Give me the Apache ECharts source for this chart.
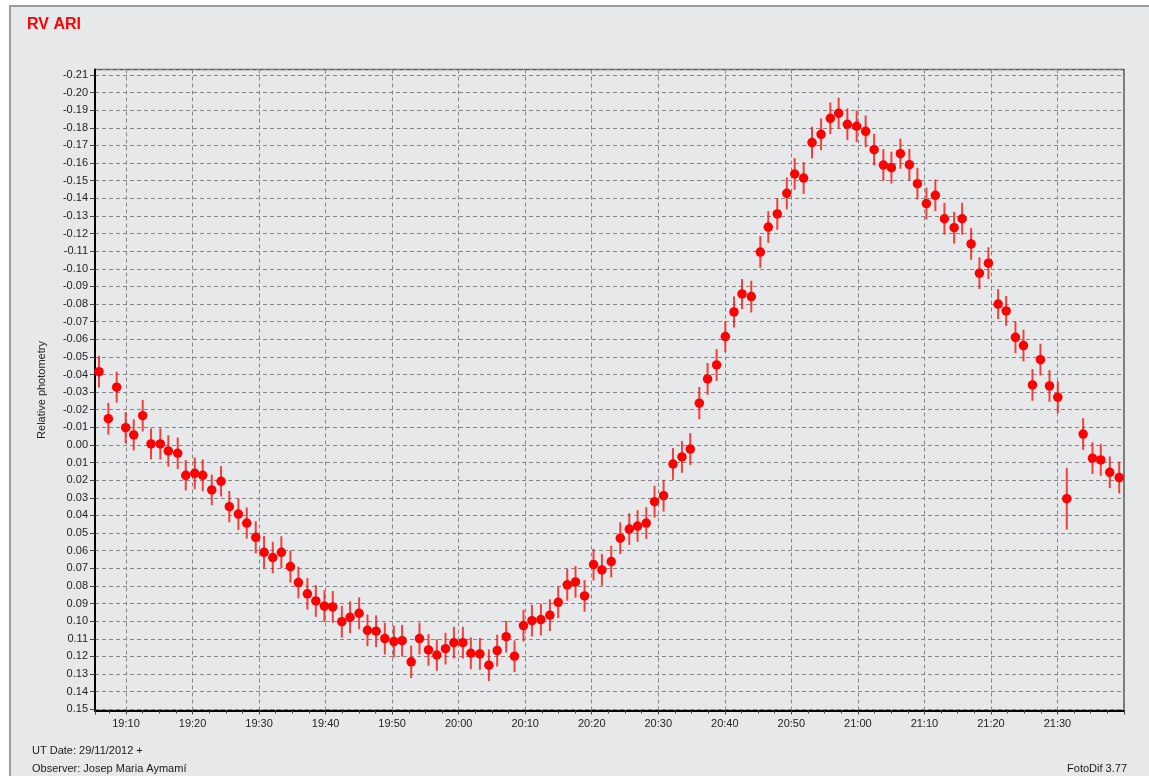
<!DOCTYPE html>
<html>
<head>
<meta charset="utf-8">
<script src="https://cdn.jsdelivr.net/npm/echarts@6/dist/echarts.min.js"></script>
<style>
  html, body { margin: 0; padding: 0; background: #ffffff; width: 1149px; height: 776px; overflow: hidden; }
  #panel { position: absolute; left: 9px; top: 5px; width: 1150px; height: 780px; background: #e7e8ea; border-left: 2px solid #9c9c9c; border-top: 2px solid #9c9c9c; }
  #chart { position: absolute; left: 0; top: 0; width: 1149px; height: 776px; }
</style>
</head>
<body>
<div id="panel"></div>
<div id="chart"></div>
<script>
// Observation times, minutes after 19:00 UT
const minutesAfter19h = [
  5.94, 7.34, 8.60, 9.95, 11.16, 12.51, 13.76, 15.16, 16.36, 17.77,
  18.98, 20.33, 21.53, 22.89, 24.29, 25.53, 26.89, 28.15, 29.50, 30.75,
  32.06, 33.35, 34.71, 35.91, 37.26, 38.53, 39.82, 41.08, 42.44, 43.68,
  45.04, 46.29, 47.59, 48.90, 50.26, 51.50, 52.86, 54.11, 55.46, 56.72,
  58.02, 59.28, 60.63, 61.83, 63.19, 64.54, 65.79, 67.14, 68.39, 69.74,
  71.01, 72.36, 73.71, 74.96, 76.32, 77.56, 78.92, 80.27, 81.53, 82.93,
  84.29, 85.64, 86.89, 88.20, 89.44, 90.80, 92.21, 93.56, 94.81, 96.17,
  97.41, 98.77, 100.08, 101.38, 102.59, 103.98, 105.34, 106.54, 107.89, 109.32,
  110.50, 111.85, 113.11, 114.47, 115.86, 117.11, 118.42, 119.82, 121.17, 122.44,
  123.83, 125.04, 126.39, 127.74, 128.95, 130.30, 131.65, 133.01, 134.47, 135.67,
  137.02, 138.27, 139.62, 141.08, 142.29, 143.68, 144.89, 146.24, 147.44, 148.80,
  150.05, 151.40, 153.86, 155.26, 156.51, 157.86, 159.28
];
// Relative photometry (magnitude difference)
const relMag = [
  -0.0416, -0.0149, -0.0328, -0.0098, -0.0057, -0.0166, -0.0006, -0.0006, 0.0034, 0.0047,
  0.0172, 0.0161, 0.0172, 0.0255, 0.0206, 0.0350, 0.0392, 0.0443, 0.0524, 0.0609,
  0.0639, 0.0609, 0.0690, 0.0781, 0.0845, 0.0885, 0.0915, 0.0919, 0.1003, 0.0978,
  0.0955, 0.1052, 0.1057, 0.1099, 0.1116, 0.1111, 0.1231, 0.1099, 0.1163, 0.1192,
  0.1156, 0.1122, 0.1122, 0.1182, 0.1186, 0.1250, 0.1167, 0.1088, 0.1199, 0.1025,
  0.0997, 0.0991, 0.0966, 0.0893, 0.0794, 0.0777, 0.0857, 0.0679, 0.0709, 0.0662,
  0.0529, 0.0477, 0.0460, 0.0443, 0.0322, 0.0288, 0.0108, 0.0068, 0.0023, -0.0237,
  -0.0375, -0.0454, -0.0615, -0.0755, -0.0857, -0.0842, -0.1095, -0.1237, -0.1311, -0.1428,
  -0.1538, -0.1515, -0.1716, -0.1763, -0.1854, -0.1883, -0.1820, -0.1809, -0.1780, -0.1676,
  -0.1589, -0.1574, -0.1653, -0.1591, -0.1483, -0.1370, -0.1417, -0.1284, -0.1233, -0.1284,
  -0.1141, -0.0975, -0.1032, -0.0800, -0.0761, -0.0611, -0.0564, -0.0341, -0.0484, -0.0335,
  -0.0271, 0.0305, -0.0062, 0.0075, 0.0085, 0.0155, 0.0185
];
// Error bar half-lengths
const relMagErr = [
  0.0090, 0.0090, 0.0088, 0.0088, 0.0088, 0.0090, 0.0088, 0.0088, 0.0089, 0.0089,
  0.0086, 0.0090, 0.0090, 0.0087, 0.0086, 0.0089, 0.0090, 0.0088, 0.0091, 0.0093,
  0.0089, 0.0091, 0.0091, 0.0090, 0.0090, 0.0090, 0.0090, 0.0090, 0.0090, 0.0090,
  0.0090, 0.0090, 0.0090, 0.0090, 0.0090, 0.0090, 0.0092, 0.0090, 0.0090, 0.0090,
  0.0090, 0.0090, 0.0090, 0.0090, 0.0090, 0.0090, 0.0090, 0.0090, 0.0090, 0.0090,
  0.0090, 0.0090, 0.0090, 0.0090, 0.0090, 0.0090, 0.0090, 0.0090, 0.0090, 0.0090,
  0.0090, 0.0090, 0.0090, 0.0090, 0.0090, 0.0090, 0.0090, 0.0090, 0.0090, 0.0092,
  0.0090, 0.0090, 0.0088, 0.0088, 0.0085, 0.0090, 0.0090, 0.0090, 0.0090, 0.0090,
  0.0090, 0.0090, 0.0090, 0.0090, 0.0090, 0.0088, 0.0090, 0.0090, 0.0090, 0.0090,
  0.0090, 0.0090, 0.0085, 0.0090, 0.0090, 0.0090, 0.0090, 0.0090, 0.0090, 0.0090,
  0.0090, 0.0090, 0.0090, 0.0085, 0.0085, 0.0090, 0.0090, 0.0090, 0.0090, 0.0090,
  0.0090, 0.0175, 0.0090, 0.0090, 0.0090, 0.0090, 0.0090
];

const startMinuteOfDay = 19 * 60;
const points = minutesAfter19h.map((m, i) => [startMinuteOfDay + m, relMag[i], relMagErr[i]]);

const pad = n => (n < 10 ? '0' : '') + n;
const fmtTime = v => { const t = Math.round(v); return pad(Math.floor(t / 60)) + ':' + pad(t % 60); };
const fmtMag = v => { const s = v.toFixed(2); return s === '-0.00' ? '0.00' : s; };

const FONT = 'Liberation Sans, Arial, sans-serif';
const chart = echarts.init(document.getElementById('chart'), null, { renderer: 'canvas' });

chart.setOption({
  animation: false,
  backgroundColor: 'transparent',
  title: [
    { text: 'RV ARI', left: 22, top: 12, padding: 5,
      textStyle: { color: '#ff0000', fontSize: 16, fontWeight: 'bold', fontFamily: FONT } },
    { text: 'UT Date: 29/11/2012 +', left: 27, top: 740, padding: 5,
      textStyle: { color: '#1a1a1a', fontSize: 11, fontWeight: 'normal', fontFamily: FONT } },
    { text: 'Observer: Josep Maria Aymamí', left: 27, top: 758, padding: 5,
      textStyle: { color: '#1a1a1a', fontSize: 11, fontWeight: 'normal', fontFamily: FONT } },
    { text: 'FotoDif 3.77', right: 17, top: 758, padding: 5,
      textStyle: { color: '#1a1a1a', fontSize: 11, fontWeight: 'normal', fontFamily: FONT } }
  ],
  grid: {
    left: 95, right: 25, top: 69.5, bottom: 65.5,
    show: true, borderColor: '#555555', borderWidth: 1.5, backgroundColor: 'transparent'
  },
  xAxis: {
    type: 'value',
    min: 1145.34, max: 1300,
    splitNumber: 15,
    axisLine: { show: true, onZero: false, lineStyle: { color: '#000', width: 2 } },
    axisTick: { show: true, length: 4, lineStyle: { color: '#444' } },
    minorTick: { show: true, splitNumber: 4, length: 3, lineStyle: { color: '#444' } },
    axisLabel: { formatter: fmtTime, color: '#222', fontSize: 11, fontFamily: FONT, margin: 8,
      showMinLabel: false, showMaxLabel: false },
    splitLine: { show: true, lineStyle: { color: '#858585', width: 1, type: [4, 3] } }
  },
  yAxis: {
    type: 'value',
    inverse: true,
    min: -0.2131, max: 0.1507,
    splitNumber: 36,
    name: 'Relative photometry',
    nameLocation: 'middle',
    nameGap: 48,
    nameTextStyle: { color: '#222', fontSize: 11, fontFamily: FONT },
    axisLine: { show: true, onZero: false, lineStyle: { color: '#000', width: 2 } },
    axisTick: { show: true, length: 5, lineStyle: { color: '#444' } },
    axisLabel: { formatter: fmtMag, color: '#222', fontSize: 11, fontFamily: FONT, margin: 7,
      showMinLabel: false, showMaxLabel: false },
    splitLine: { show: true, lineStyle: { color: '#858585', width: 1, type: [4, 3] } }
  },
  series: [
    {
      type: 'custom',
      data: points,
      encode: { x: 0, y: 1 },
      z: 2,
      renderItem: function (params, api) {
        const x = api.value(0), y = api.value(1), e = api.value(2);
        const p1 = api.coord([x, y - e]);
        const p2 = api.coord([x, y + e]);
        return {
          type: 'line',
          shape: { x1: p1[0], y1: p1[1], x2: p2[0], y2: p2[1] },
          style: { stroke: 'rgba(245,20,20,0.8)', lineWidth: 2 }
        };
      }
    },
    {
      type: 'scatter',
      data: points.map(p => [p[0], p[1]]),
      symbol: 'circle',
      symbolSize: 9.5,
      z: 3,
      itemStyle: { color: '#ff0000', opacity: 1 }
    }
  ]
});
</script>
</body>
</html>
